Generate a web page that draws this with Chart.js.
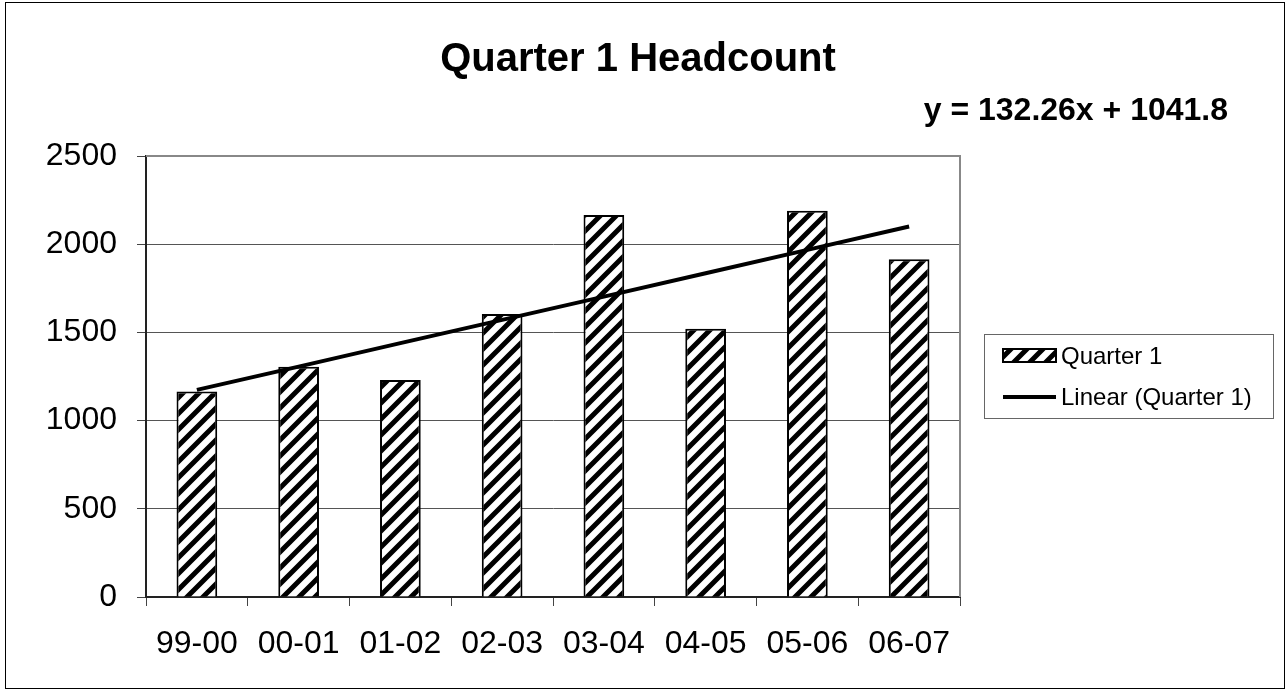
<!DOCTYPE html>
<html>
<head>
  <title>Quarter 1 Headcount</title>
  <script src="https://cdn.jsdelivr.net/npm/chart.js"></script>
  <style>
    body {
      margin: 0;
      padding: 0;
      background-color: #fff;
    }
    canvas {
      display: block;
    }
  </style>
</head>
<body>
  <canvas id="headcountChart" width="1288" height="690"></canvas>
  <script>
    const categories = ['99-00', '00-01', '01-02', '02-03', '03-04', '04-05', '05-06', '06-07'];
    const headcount = [1165, 1305, 1230, 1605, 2165, 1520, 2190, 1915];
    const trendValues = [1174, 1306, 1439, 1571, 1703, 1835, 1968, 2100];
    const chartTitle = 'Quarter 1 Headcount';
    const equationText = 'y = 132.26x + 1041.8';
    const legendLabels = ['Quarter 1', 'Linear (Quarter 1)'];

    const FONT = '"Liberation Sans", Arial, sans-serif';

    // diagonal hatch like the old excel fill
    function makeHatch() {
      const c = document.createElement('canvas');
      c.width = 16;
      c.height = 16;
      const g = c.getContext('2d');
      g.fillStyle = '#fff';
      g.fillRect(0, 0, 16, 16);
      g.strokeStyle = '#000';
      g.lineWidth = 5;
      g.beginPath();
      g.moveTo(-4, 4); g.lineTo(4, -4);
      g.moveTo(-4, 20); g.lineTo(20, -4);
      g.moveTo(12, 20); g.lineTo(20, 12);
      g.stroke();
      return c;
    }

    const ctx = document.getElementById('headcountChart').getContext('2d');
    const hatch = ctx.createPattern(makeHatch(), 'repeat');

    const decorations = {
      id: 'decorations',
      beforeDraw(chart) {
        const c = chart.ctx;
        c.save();
        c.fillStyle = '#fff';
        c.fillRect(0, 0, chart.width, chart.height);
        c.strokeStyle = '#000';
        c.lineWidth = 1;
        c.strokeRect(5.5, 2.5, 1279, 686);
        c.restore();
      },
      beforeDatasetsDraw(chart) {
        const a = chart.chartArea;
        const c = chart.ctx;
        c.save();
        c.strokeStyle = '#888';
        c.lineWidth = 2;
        c.beginPath();
        c.moveTo(a.left, a.top);
        c.lineTo(a.right, a.top);
        c.lineTo(a.right, a.bottom);
        c.stroke();
        c.restore();
      },
      afterDraw(chart) {
        const c = chart.ctx;
        c.save();
        c.fillStyle = '#000';
        c.textBaseline = 'alphabetic';

        c.font = 'bold 40px ' + FONT;
        c.textAlign = 'center';
        c.fillText(chartTitle, 638, 71);

        c.font = 'bold 32px ' + FONT;
        c.textAlign = 'right';
        c.fillText(equationText, 1228, 120);

        // legend
        c.strokeStyle = '#666';
        c.lineWidth = 1;
        c.strokeRect(984.5, 334.5, 289, 84);

        c.fillStyle = hatch;
        c.fillRect(1003, 349, 53, 13);
        c.strokeStyle = '#000';
        c.lineWidth = 2;
        c.strokeRect(1003, 349, 53, 13);

        c.lineWidth = 4;
        c.beginPath();
        c.moveTo(1003, 397);
        c.lineTo(1056, 397);
        c.stroke();

        c.fillStyle = '#000';
        c.font = '24px ' + FONT;
        c.textAlign = 'left';
        c.textBaseline = 'middle';
        c.fillText(legendLabels[0], 1061, 357);
        c.fillText(legendLabels[1], 1061, 398);
        c.restore();
      }
    };

    new Chart(ctx, {
      type: 'bar',
      data: {
        labels: categories,
        datasets: [{
          type: 'line',
          label: legendLabels[1],
          data: trendValues,
          borderColor: '#000',
          borderWidth: 4,
          pointRadius: 0,
          tension: 0,
          fill: false,
          order: 0
        }, {
          type: 'bar',
          label: legendLabels[0],
          data: headcount,
          backgroundColor: hatch,
          borderColor: '#000',
          borderWidth: 2,
          barPercentage: 0.4,
          categoryPercentage: 1.0,
          order: 1
        }]
      },
      options: {
        responsive: false,
        animation: false,
        layout: {
          padding: { top: 156, right: 328, bottom: 0, left: 0 }
        },
        scales: {
          x: {
            offset: true,
            afterFit: s => { s.height = 93; },
            grid: {
              offset: true,
              drawOnChartArea: false,
              tickLength: 9,
              color: '#444'
            },
            border: { display: true, color: '#222', width: 2 },
            ticks: {
              color: '#000',
              font: { family: FONT, size: 32 },
              padding: 19,
              maxRotation: 0
            }
          },
          y: {
            min: 0,
            max: 2500,
            afterFit: s => { s.width = 146; },
            grid: {
              color: c => c.tick && c.tick.value === 2500 ? '#999' : '#555',
              tickColor: '#444',
              tickLength: 9
            },
            border: { display: true, color: '#222', width: 2 },
            ticks: {
              stepSize: 500,
              color: '#000',
              font: { family: FONT, size: 32 },
              padding: 20,
              callback: v => String(v)
            }
          }
        },
        plugins: {
          legend: { display: false },
          title: { display: false },
          tooltip: { enabled: false }
        }
      },
      plugins: [decorations]
    });
  </script>
</body>
</html>
